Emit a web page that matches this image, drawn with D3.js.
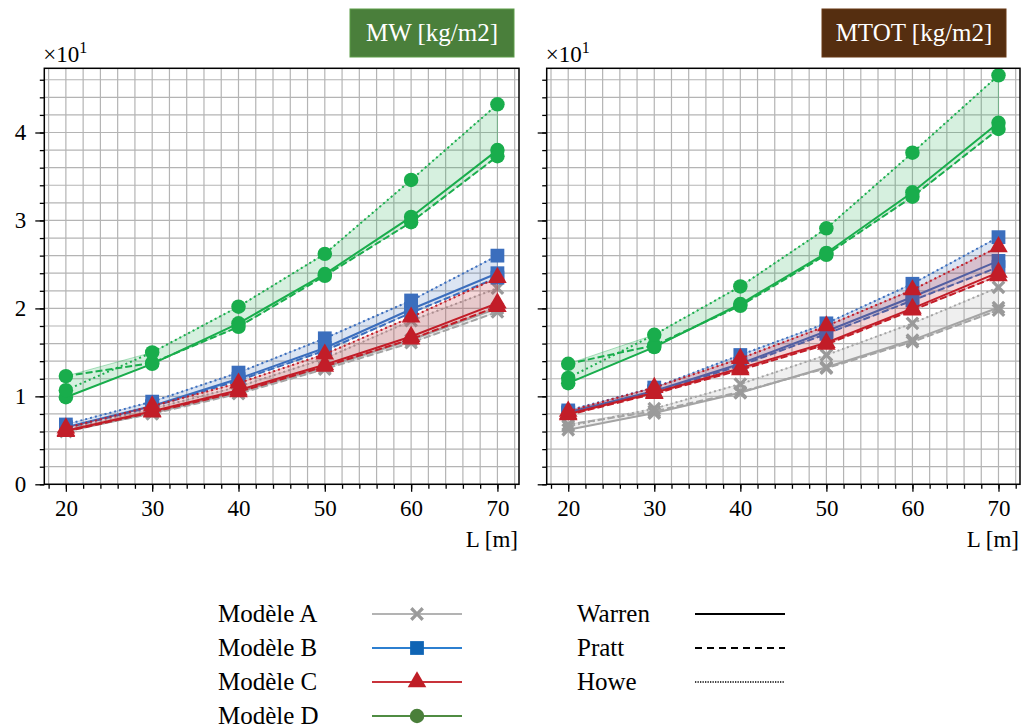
<!DOCTYPE html>
<html><head><meta charset="utf-8">
<script src="https://cdn.jsdelivr.net/npm/d3@7"></script>
<style>body{margin:0;background:#fff}svg{display:block}</style>
</head><body>
<svg id="c" width="1023" height="728"></svg>
<script>
// ---------- data ----------
const L = [20, 30, 40, 50, 60, 70];
const models = ["Modèle A", "Modèle B", "Modèle C", "Modèle D"];
const trusses = ["Warren", "Pratt", "Howe"];
const panelTitles = ["MW [kg/m2]", "MTOT [kg/m2]"];
const xTickValues = [20, 30, 40, 50, 60, 70];
const yTickValues = [0, 10, 20, 30, 40];

// MW
const mw_A_Warren = [6.0, 8.1, 10.5, 13.3, 16.4, 20.0];
const mw_A_Pratt  = [6.2, 8.0, 10.3, 13.1, 16.1, 19.6];
const mw_A_Howe   = [6.2, 8.6, 11.1, 14.3, 18.6, 22.3];
const mw_B_Warren = [6.5, 8.9, 12.0, 15.5, 19.9, 24.0];
const mw_B_Pratt  = [6.4, 8.8, 11.8, 15.2, 19.5, 23.5];
const mw_B_Howe   = [6.8, 9.4, 12.7, 16.6, 20.9, 26.0];
const mw_C_Warren = [6.1, 8.3, 10.7, 13.6, 16.8, 20.6];
const mw_C_Pratt  = [6.0, 8.2, 10.5, 13.4, 16.5, 20.2];
const mw_C_Howe   = [6.4, 8.9, 11.5, 14.8, 19.0, 23.5];
const mw_D_Warren = [9.9, 13.7, 18.3, 23.9, 30.4, 38.0];
const mw_D_Pratt  = [12.3, 13.8, 17.9, 23.7, 29.8, 37.3];
const mw_D_Howe   = [10.7, 15.0, 20.2, 26.2, 34.6, 43.2];

// MTOT
const mt_A_Warren = [6.2, 8.1, 10.4, 13.3, 16.4, 20.1];
const mt_A_Pratt  = [6.8, 8.3, 10.5, 13.2, 16.2, 19.8];
const mt_A_Howe   = [6.6, 8.6, 11.4, 14.7, 18.3, 22.4];
const mt_B_Warren = [8.2, 10.6, 13.7, 17.4, 21.3, 25.4];
const mt_B_Pratt  = [8.1, 10.5, 13.5, 17.1, 20.9, 24.7];
const mt_B_Howe   = [8.4, 11.0, 14.7, 18.3, 22.8, 28.1];
const mt_C_Warren = [8.0, 10.4, 13.2, 16.1, 20.0, 24.1];
const mt_C_Pratt  = [7.9, 10.3, 13.0, 15.9, 19.8, 23.7];
const mt_C_Howe   = [8.3, 11.0, 14.3, 18.0, 22.1, 27.0];
const mt_D_Warren = [11.5, 15.6, 20.5, 26.3, 33.2, 41.1];
const mt_D_Pratt  = [13.7, 15.8, 20.3, 26.1, 32.7, 40.4];
const mt_D_Howe   = [12.1, 17.0, 22.5, 29.1, 37.7, 46.5];

const panelData = [
  [[mw_A_Warren, mw_A_Pratt, mw_A_Howe], [mw_B_Warren, mw_B_Pratt, mw_B_Howe],
   [mw_C_Warren, mw_C_Pratt, mw_C_Howe], [mw_D_Warren, mw_D_Pratt, mw_D_Howe]],
  [[mt_A_Warren, mt_A_Pratt, mt_A_Howe], [mt_B_Warren, mt_B_Pratt, mt_B_Howe],
   [mt_C_Warren, mt_C_Pratt, mt_C_Howe], [mt_D_Warren, mt_D_Pratt, mt_D_Howe]]
];

// ---------- styles ----------
const plotColors = ["#a4a4a4", "#3b6ebd", "#c21d28", "#19ad4c"];
const markerColors = ["#9a9a9a", "#3b6ebd", "#c21d28", "#19ad4c"];
const legendLineColors = ["#b3b3b3", "#2c7fd0", "#c8323a", "#4f8c42"];
const legendMarkerColors = ["#9a9a9a", "#0f64b4", "#bf1e26", "#4a7f3a"];
const titleColors = ["#4a7f3b", "#552e10"];
const dashes = [null, "7,3", "2,3"];
const FONT = "'Liberation Serif','Times New Roman',serif";

const symX = {
  draw(ctx, size) {
    const r = Math.sqrt(size) / 2, t = r * 0.34;
    const pts = [[-r, -r + t], [-r + t, -r], [0, -t], [r - t, -r], [r, -r + t], [t, 0],
                 [r, r - t], [r - t, r], [0, t], [-r + t, r], [-r, r - t], [-t, 0]];
    ctx.moveTo(pts[0][0], pts[0][1]);
    for (let i = 1; i < pts.length; i++) ctx.lineTo(pts[i][0], pts[i][1]);
    ctx.closePath();
  }
};
const symbols = [d3.symbol(symX, 190), d3.symbol(d3.symbolSquare, 190),
                 d3.symbol(d3.symbolTriangle, 150), d3.symbol(d3.symbolCircle, 165)];

const svg = d3.select("#c");
const yTop = 68.3, yBot = 484.3;
const panels = [{x0: 44.3, x1: 519}, {x0: 546.7, x1: 1020}];
const y = d3.scaleLinear().domain([0, 47.3]).range([yBot, yTop]);

panels.forEach((p, pi) => {
  const x = d3.scaleLinear().domain([17.5, 72.5]).range([p.x0, p.x1]);
  const g = svg.append("g");

  // grid
  const gx = d3.range(18, 73, 2), gy = d3.range(0, 47.3, 2);
  g.append("g").selectAll("line").data(gx).join("line")
    .attr("x1", d => x(d)).attr("x2", d => x(d)).attr("y1", yTop).attr("y2", yBot)
    .attr("stroke", "#b4b4b4").attr("stroke-width", 1.2);
  g.append("g").selectAll("line").data(gy).join("line")
    .attr("y1", d => y(d)).attr("y2", d => y(d)).attr("x1", p.x0).attr("x2", p.x1)
    .attr("stroke", "#b4b4b4").attr("stroke-width", 1.2);

  // series
  const data = panelData[pi];
  data.forEach((series, mi) => {
    const col = plotColors[mi];
    const lo = L.map((l, i) => d3.min(series, s => s[i]));
    const hi = L.map((l, i) => d3.max(series, s => s[i]));
    const area = d3.area().x((d, i) => x(L[i])).y0((d, i) => y(lo[i])).y1((d, i) => y(hi[i]));
    g.append("path").attr("d", area(L)).attr("fill", col).attr("fill-opacity", 0.18)
      .attr("stroke", col).attr("stroke-opacity", 0.35).attr("stroke-width", 1);
    series.forEach((s, ti) => {
      const line = d3.line().x((d, i) => x(L[i])).y(d => y(d));
      g.append("path").attr("d", line(s)).attr("fill", "none").attr("stroke", col)
        .attr("stroke-width", 2).attr("stroke-dasharray", dashes[ti]);
      g.append("g").selectAll("path").data(s).join("path")
        .attr("transform", (d, i) => `translate(${x(L[i])},${y(d)})`)
        .attr("d", symbols[mi]()).attr("fill", markerColors[mi]);
    });
  });

  // frame
  g.append("rect").attr("x", p.x0).attr("y", yTop).attr("width", p.x1 - p.x0).attr("height", yBot - yTop)
    .attr("fill", "none").attr("stroke", "#000").attr("stroke-width", 1.5);

  // axes
  const ax = g.append("g").attr("transform", `translate(0,${yBot})`);
  ax.call(d3.axisBottom(x).tickValues(d3.range(18, 73, 2)).tickSize(4.5).tickFormat(""));
  const axM = g.append("g").attr("transform", `translate(0,${yBot})`);
  axM.call(d3.axisBottom(x).tickValues(xTickValues).tickSize(7.5).tickPadding(8));
  const ay = g.append("g").attr("transform", `translate(${p.x0},0)`);
  ay.call(d3.axisLeft(y).tickValues(gy).tickSize(4.5).tickFormat(""));
  const ayM = g.append("g").attr("transform", `translate(${p.x0},0)`);
  ayM.call(d3.axisLeft(y).tickValues(yTickValues).tickSize(9).tickPadding(9)
    .tickFormat(d => pi === 0 ? String(d / 10) : ""));
  [ax, axM, ay, ayM].forEach(a => {
    a.select(".domain").remove();
    a.selectAll(".tick line").attr("stroke", "#000").attr("stroke-width", 1.3);
    a.selectAll("text").attr("font-family", FONT).attr("font-size", 23).attr("fill", "#000");
  });

  // x10^1
  const ex = g.append("text").attr("x", p.x0 - 1).attr("y", 62)
    .attr("font-family", FONT).attr("font-size", 23).attr("fill", "#000");
  ex.append("tspan").text("×10");
  ex.append("tspan").attr("dy", -9).attr("font-size", 16).text("1");

  // x label
  g.append("text").attr("x", p.x1 - 1).attr("y", 547).attr("text-anchor", "end")
    .attr("font-family", FONT).attr("font-size", 23).text("L [m]");

  // title box
  const tw = pi === 0 ? 164 : 184;
  const tx1 = pi === 0 ? 514 : 1006;
  g.append("rect").attr("x", tx1 - tw).attr("y", 9).attr("width", tw).attr("height", 48)
    .attr("fill", titleColors[pi]).attr("stroke", d3.color(titleColors[pi]).brighter(0.6)).attr("stroke-width", 1);
  g.append("text").attr("x", tx1 - tw / 2).attr("y", 40.5).attr("text-anchor", "middle")
    .attr("font-family", FONT).attr("font-size", 25).attr("fill", "#fff").text(panelTitles[pi]);
});

// ---------- legend ----------
const leg = svg.append("g");
const rowY = [614, 648, 682, 716];
models.forEach((m, i) => {
  leg.append("text").attr("x", 218).attr("y", rowY[i] + 8).attr("font-family", FONT)
    .attr("font-size", 25).text(m);
  leg.append("line").attr("x1", 372).attr("x2", 462).attr("y1", rowY[i]).attr("y2", rowY[i])
    .attr("stroke", legendLineColors[i]).attr("stroke-width", 2);
  leg.append("path").attr("transform", `translate(417,${rowY[i]})`)
    .attr("d", symbols[i]()).attr("fill", legendMarkerColors[i]);
});
const legDash = [null, "7,5", "1.3,1.2"];
const legW = [2, 2, 1.3];
trusses.forEach((t, i) => {
  leg.append("text").attr("x", 577).attr("y", rowY[i] + 8).attr("font-family", FONT)
    .attr("font-size", 25).text(t);
  leg.append("line").attr("x1", 695).attr("x2", 785).attr("y1", rowY[i]).attr("y2", rowY[i])
    .attr("stroke", "#000").attr("stroke-width", legW[i]).attr("stroke-dasharray", legDash[i]);
});
</script>
</body></html>
